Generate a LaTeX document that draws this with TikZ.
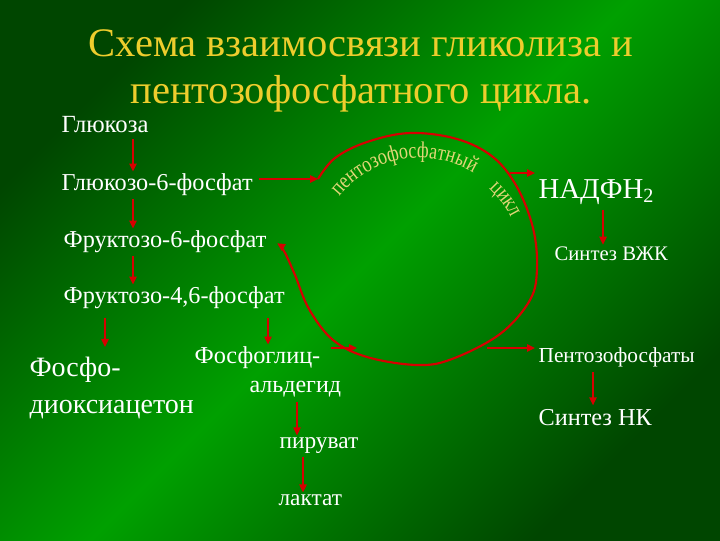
\documentclass[tikz,border=0pt]{standalone}
\usepackage{fontspec}
\setmainfont{LiberationSerif}[Extension=.ttf, UprightFont=*-Regular, BoldFont=*-Bold, ItalicFont=*-Italic, BoldItalicFont=*-BoldItalic]
\newfontfamily\arcfont{LiberationSerif}[Extension=.ttf, UprightFont=*-Regular, FakeStretch=0.8]
\usetikzlibrary{arrows.meta,calc,decorations.text}
\definecolor{redarr}{RGB}{215,0,0}
\definecolor{titleyel}{RGB}{238,205,45}
\definecolor{arcyel}{RGB}{225,215,120}
\definecolor{bgdark}{RGB}{0,70,0}
\definecolor{bglight}{RGB}{0,160,0}

\begin{document}
\begin{tikzpicture}[x=0.75pt,y=0.75pt,yscale=-1,xscale=1,
	arr/.style={draw=redarr, line width=1.1pt, -{Triangle[length=6pt,width=5.5pt]}},
	cyc/.style={draw=redarr, line width=1.6pt, -{Triangle[length=6pt,width=5.5pt]}},
	lbl/.style={anchor=base west, inner sep=1pt, text=white, font=\fontsize{#1}{#1}\selectfont},
	ttl/.style={anchor=base, inner sep=0pt, text=titleyel, font=\fontsize{30.4}{30.4}\selectfont}]
	\useasboundingbox (0,0) rectangle (720,540);
	\shade [top color=bgdark, bottom color=bgdark, middle color=bglight, shading angle=45] (0,0) rectangle (720,540);

	% title
	\node [ttl] (ttl1) at (361,56) {Схема взаимосвязи гликолиза и};
	\node [ttl] (ttl2) at (361,103) {пентозофосфатного цикла.};

	% glycolysis
	\node [lbl=18.5] (glu) at (60,132) {Глюкоза};
	\node [lbl=18.2] (g6p) at (60,190) {Глюкозо-6-фосфат};
	\node [lbl=18.2] (f6p) at (62,247) {Фруктозо-6-фосфат};
	\node [lbl=18.2] (f46p) at (62,303) {Фруктозо-4,6-фосфат};
	\node [lbl=21] (pda1) at (28,376) {Фосфо-};
	\node [lbl=21] (pda2) at (28,413) {диоксиацетон};
	\node [lbl=18.2] (pga1) at (193,363) {Фосфоглиц-};
	\node [lbl=18] (pga2) at (248,392) {альдегид};
	\node [lbl=17.5] (pyr) at (278,448) {пируват};
	\node [lbl=17.5] (lac) at (277,505) {лактат};

	% pentose side
	\node [lbl=21.6] (nadph) at (537,198) {НАДФН\textsubscript{2}};
	\node [lbl=15.5] (vzhk) at (553,260) {Синтез ВЖК};
	\node [lbl=16] (pent) at (537,362) {Пентозофосфаты};
	\node [lbl=18.2] (nk) at (537,425) {Синтез НК};

	\coordinate (colA) at (133,0);
	\coordinate (colB) at (105,0);
	\coordinate (colC) at (268,0);
	\coordinate (colD) at (297,0);
	\coordinate (colE) at (303,0);
	\coordinate (colF) at (603,0);
	\coordinate (colG) at (593,0);

	\draw [arr] ($(glu.south -| colA)+(0,5)$) -- (g6p.north -| colA);
	\draw [arr] ($(g6p.south -| colA)+(0,2)$) -- (f6p.north -| colA);
	\draw [arr] ($(f6p.south -| colA)+(0,2)$) -- (f46p.north -| colA);
	\draw [arr] ($(f46p.south -| colB)+(0,8)$) -- ($(pda1.north -| colB)+(0,-8)$);
	\draw [arr] ($(f46p.south -| colC)+(0,8)$) -- (pga1.north -| colC);
	\draw [arr] ($(pga2.south -| colD)+(0,4)$) -- (pyr.north -| colD);
	\draw [arr] ($(pyr.south -| colE)+(0,2)$) -- (lac.north -| colE);
	\draw [arr] ($(nadph.south -| colF)+(0,4)$) -- (vzhk.north -| colF);
	\draw [arr] ($(pent.south -| colG)+(0,4)$) -- ($(nk.north -| colG)+(0,-2)$);

	% the cycle
	\coordinate (c0) at (318,179);
	\coordinate (c1) at (510,173);
	\coordinate (c2) at (357,348);
	\coordinate (c3) at (487,348);
	\coordinate (cc) at (420,262);
	\draw [arr] ($(g6p.east |- c0)+(5,0)$) -- (c0);
	\draw [cyc] plot [smooth, tension=0.6] coordinates {(c0) (335,158) (367,142) (410,133) (457,139) (493,157) (517,187) (533,228) (537,268) (530,300) (500,334) (452,359) (417,365) (367,357) (333,340) (309,309) (295,275) (284,251) ($(f6p.east)+(9,2)$)};
	\draw [arr] (c1) -- ($(nadph.west |- c1)+(-2,0)$);
	\draw [arr] ($(pga1.east |- c2)+(9,0)$) -- (c2);
	\draw [arr] (c3) -- ($(pent.west |- c3)+(-2,0)$);

	\path [decorate, decoration={text along path, text align=left,
		text={|\arcfont\fontsize{17}{17}\selectfont\color{arcyel}|пентозофосфатный}}]
		(cc) ++(-141:104) arc [start angle=-141, end angle=-56, radius=104];
	\path [decorate, decoration={text along path, text align=left,
		text={|\arcfont\fontsize{17}{17}\selectfont\color{arcyel}|цикл}}]
		(cc) ++(-47:101) arc [start angle=-47, end angle=-18, radius=101];
\end{tikzpicture}
\end{document}
